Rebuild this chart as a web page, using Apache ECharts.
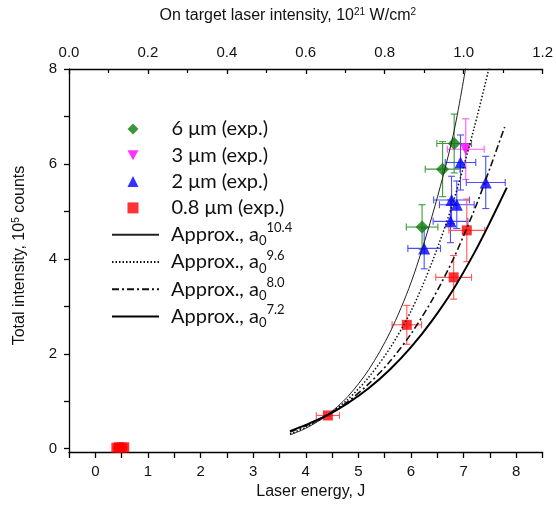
<!DOCTYPE html>
<html><head><meta charset="utf-8">
<script src="https://cdn.jsdelivr.net/npm/echarts@6/dist/echarts.min.js"></script>
<style>html,body{margin:0;padding:0;background:#fff}#c{width:556px;height:508px}</style>
</head><body><div id="c"></div>
<script>
// ---- data ----
// 6 um
const g6X = [6.21, 6.60, 6.82];
const g6Y = [4.67, 5.89, 6.43];
const g6XE = [0.30, 0.33, 0.33];
const g6YE = [0.47, 0.58, 0.62];
// 3 um
const m3X = [7.04];
const m3Y = [6.31];
const m3XE = [0.35];
const m3YE = [0.64];
// 2 um
const b2X = [6.25, 6.75, 6.77, 6.87, 6.94, 7.42];
const b2Y = [4.22, 4.79, 5.24, 5.14, 6.03, 5.61];
const b2XE = [0.31, 0.33, 0.34, 0.33, 0.29, 0.37];
const b2YE = [0.43, 0.45, 0.50, 0.50, 0.58, 0.55];
// 0.8 um
const r08X = [0.40, 0.45, 0.50, 0.55, 4.42, 5.92, 6.81, 7.06];
const r08Y = [0.02, 0.03, 0.02, 0.03, 0.70, 2.61, 3.61, 4.60];
const r08XE = [0.05, 0.05, 0.05, 0.05, 0.22, 0.28, 0.34, 0.34];
const r08YE = [0.01, 0.01, 0.01, 0.01, 0.02, 0.41, 0.46, 0.66];
// approximation curves
const fitX104 = [3.7, 4.0, 4.4, 4.8, 5.2, 5.6, 6.0, 6.4, 6.8, 7.05];
const fitY104 = [0.29, 0.43, 0.70, 1.10, 1.67, 2.45, 3.50, 4.90, 6.60, 8.10];
const fitX96 = [3.7, 4.0, 4.4, 4.8, 5.2, 5.6, 6.0, 6.4, 6.8, 7.2, 7.5];
const fitY96 = [0.31, 0.45, 0.70, 1.04, 1.51, 2.12, 2.90, 3.93, 5.19, 6.76, 8.10];
const fitX80 = [3.7, 4.0, 4.4, 4.8, 5.2, 5.6, 6.0, 6.4, 6.8, 7.2, 7.5, 7.78];
const fitY80 = [0.35, 0.48, 0.70, 0.99, 1.37, 1.84, 2.42, 3.13, 3.99, 5.02, 5.91, 6.78];
const fitX72 = [3.7, 4.0, 4.4, 4.8, 5.2, 5.6, 6.0, 6.4, 6.8, 7.2, 7.5, 7.82];
const fitY72 = [0.37, 0.50, 0.70, 0.96, 1.28, 1.67, 2.14, 2.70, 3.35, 4.12, 4.77, 5.50];
// axes ticks
const bottomLabels = [0, 1, 2, 3, 4, 5, 6, 7, 8];
const bottomTicks = [-0.5, 0, 0.5, 1, 1.5, 2, 2.5, 3, 3.5, 4, 4.5, 5, 5.5, 6, 6.5, 7, 7.5, 8, 8.5];
const leftLabels = [0, 2, 4, 6, 8];
const leftTicks = [0, 1, 2, 3, 4, 5, 6, 7, 8];
// legend names
const expNames = ['6 μm (exp.)', '3 μm (exp.)', '2 μm (exp.)', '0.8 μm (exp.)'];
const fitPowers = ['10.4', '9.6', '8.0', '7.2'];

const zip2 = (a, b) => a.map((v, i) => [v, b[i]]);
const zip4 = (a, b, c, d) => a.map((v, i) => [v, b[i], c[i], d[i]]);

function errRender(color) {
  return function (params, api) {
    const x = api.value(0), y = api.value(1), xe = api.value(2), ye = api.value(3);
    const l = api.coord([x - xe, y]), r = api.coord([x + xe, y]);
    const t = api.coord([x, y + ye]), b = api.coord([x, y - ye]);
    const cap = 3.5;
    const st = { stroke: color, lineWidth: 1.1 };
    const ln = (x1, y1, x2, y2) => ({ type: 'line', shape: { x1, y1, x2, y2 }, style: st });
    return {
      type: 'group',
      children: [
        ln(l[0], l[1], r[0], r[1]),
        ln(t[0], t[1], b[0], b[1]),
        ln(l[0], l[1] - cap, l[0], l[1] + cap),
        ln(r[0], r[1] - cap, r[0], r[1] + cap),
        ln(t[0] - cap, t[1], t[0] + cap, t[1]),
        ln(b[0] - cap, b[1], b[0] + cap, b[1])
      ]
    };
  };
}
function errSeries(X, Y, XE, YE, color) {
  return {
    type: 'custom', xAxisIndex: 0, yAxisIndex: 0,
    renderItem: errRender(color),
    data: zip4(X, Y, XE, YE),
    encode: { x: 0, y: 1 }, z: 2, silent: true
  };
}

const AX = 'Liberation Sans, Arial, sans-serif';
const LG = 'Lato, sans-serif';
const chart = echarts.init(document.getElementById('c'), null, { renderer: 'canvas' });
const fitName = (p) => '{t|Approx., a}{sub|0}{sup|' + p + '}';
const fitNames = fitPowers.map(fitName);

const ROW = 26.3, TOP1 = 124;
const legRich = {
  t: { fontFamily: LG, fontSize: 20, color: '#111', lineHeight: 25 },
  sub: { fontFamily: LG, fontSize: 13, color: '#111', padding: [13, 0, 0, 0], lineHeight: 13 },
  sup: { fontFamily: LG, fontSize: 13, color: '#111', padding: [0, 0, 13, 0], lineHeight: 13 }
};
const legText = (pad) => ({
  fontFamily: LG, fontSize: 20, color: '#111', lineHeight: 25, height: 25,
  padding: [0, 0, 0, pad], rich: legRich
});

chart.setOption({
  animation: false,
  backgroundColor: '#fff',
  grid: { left: 69, right: 9, top: 69, bottom: 56, containLabel: false },
  legend: [{
    orient: 'vertical', left: 122.5, top: TOP1 - 12.5,
    itemWidth: 11, itemHeight: 11, itemGap: ROW - 25,
    selectedMode: false,
    data: [
      { name: expNames[0] },
      { name: expNames[1], icon: 'path://M0,0L10,0L5,9Z' },
      { name: expNames[2] },
      { name: expNames[3] }
    ],
    formatter: n => '{t|' + n + '}',
    textStyle: legText(28)
  }, {
    orient: 'vertical', left: 106, top: TOP1 - 12.5 + 4 * ROW,
    itemWidth: 47, itemHeight: 11, itemGap: ROW - 25,
    selectedMode: false, data: fitNames,
    textStyle: legText(7)
  }],
  xAxis: [{
    type: 'value', position: 'bottom', min: -0.5, max: 8.5,
    name: 'Laser energy, J', nameLocation: 'middle', nameGap: 29,
    nameTextStyle: { fontFamily: AX, fontSize: 16, color: '#111', padding: [0, 0, 0, 10] },
    axisLine: { show: true, onZero: false, lineStyle: { color: '#000', width: 1.3 } },
    axisTick: { show: true, customValues: bottomTicks, length: 6, lineStyle: { color: '#000', width: 1.3 } },
    axisLabel: { customValues: bottomLabels, margin: 12, fontFamily: AX, fontSize: 15, color: '#111' },
    splitLine: { show: false }
  }, {
    type: 'value', position: 'top', min: 0, max: 1.2, interval: 0.2,
    name: '{a|On target laser intensity, 10}{s|21}{a| W/cm}{s|2}', nameLocation: 'middle', nameGap: 44,
    nameTextStyle: {
      padding: [0, 36, 0, 0],
      rich: {
        a: { fontFamily: AX, fontSize: 16, color: '#111' },
        s: { fontFamily: AX, fontSize: 10, color: '#111', verticalAlign: 'top', padding: [0, 0, 8, 0] }
      }
    },
    axisLine: { show: true, onZero: false, lineStyle: { color: '#000', width: 1.3 } },
    axisTick: { show: true, inside: true, length: 5, lineStyle: { color: '#000', width: 1.3 } },
    minorTick: { show: true, splitNumber: 2, length: 4, lineStyle: { color: '#000', width: 1.2 } },
    axisLabel: { margin: 9, fontFamily: AX, fontSize: 15, color: '#111', formatter: v => v.toFixed(1) },
    splitLine: { show: false }
  }],
  yAxis: [{
    type: 'value', min: -0.07, max: 8,
    name: '{a|Total intensity, 10}{s|5}{a| counts}', nameLocation: 'middle', nameGap: 40, nameRotate: 90,
    nameTextStyle: {
      padding: [0, 0, 0, 10],
      rich: {
        a: { fontFamily: AX, fontSize: 16, color: '#111' },
        s: { fontFamily: AX, fontSize: 10, color: '#111', verticalAlign: 'top', padding: [0, 0, 8, 0] }
      }
    },
    axisLine: { show: true, onZero: false, lineStyle: { color: '#000', width: 1.3 } },
    axisTick: { show: true, customValues: leftTicks, length: 5, lineStyle: { color: '#000', width: 1.3 } },
    axisLabel: { customValues: leftLabels, margin: 12, fontFamily: AX, fontSize: 15, color: '#111' },
    splitLine: { show: false }
  }],
  series: [
    errSeries(g6X, g6Y, g6XE, g6YE, '#3c9a3c'),
    errSeries(m3X, m3Y, m3XE, m3YE, '#ff55ff'),
    errSeries(b2X, b2Y, b2XE, b2YE, '#4d4dff'),
    errSeries(r08X, r08Y, r08XE, r08YE, '#ff5a5a'),
    { name: expNames[0], type: 'scatter', symbol: 'diamond', symbolSize: 13,
      itemStyle: { color: '#0d7a0d' }, data: zip2(g6X, g6Y), z: 4 },
    { name: expNames[1], type: 'scatter', symbol: 'triangle', symbolRotate: 180, symbolSize: 12,
      itemStyle: { color: '#ff00ff' }, data: zip2(m3X, m3Y), z: 4 },
    { name: expNames[2], type: 'scatter', symbol: 'triangle', symbolSize: 12,
      itemStyle: { color: '#0000ff' }, data: zip2(b2X, b2Y), z: 4 },
    { name: expNames[3], type: 'scatter', symbol: 'rect', symbolSize: 10,
      itemStyle: { color: '#ff0000' }, data: zip2(r08X, r08Y), z: 4 },
    { name: fitNames[0], type: 'line', smooth: 0.3, showSymbol: false, symbol: 'none',
      itemStyle: { color: '#222', opacity: 0 },
      lineStyle: { color: '#222', width: 1, type: 'solid', opacity: 1 }, data: zip2(fitX104, fitY104), z: 5 },
    { name: fitNames[1], type: 'line', smooth: 0.3, showSymbol: false, symbol: 'none',
      itemStyle: { color: '#111', opacity: 0 },
      lineStyle: { color: '#111', width: 1.5, type: [1.5, 2], opacity: 1 }, data: zip2(fitX96, fitY96), z: 5 },
    { name: fitNames[2], type: 'line', smooth: 0.3, showSymbol: false, symbol: 'none',
      itemStyle: { color: '#111', opacity: 0 },
      lineStyle: { color: '#111', width: 1.6, type: [7, 3, 2, 3], opacity: 1 }, data: zip2(fitX80, fitY80), z: 5 },
    { name: fitNames[3], type: 'line', smooth: 0.3, showSymbol: false, symbol: 'none',
      itemStyle: { color: '#000', opacity: 0 },
      lineStyle: { color: '#000', width: 2, type: 'solid', opacity: 1 }, data: zip2(fitX72, fitY72), z: 5 }
  ]
});
</script></body></html>
